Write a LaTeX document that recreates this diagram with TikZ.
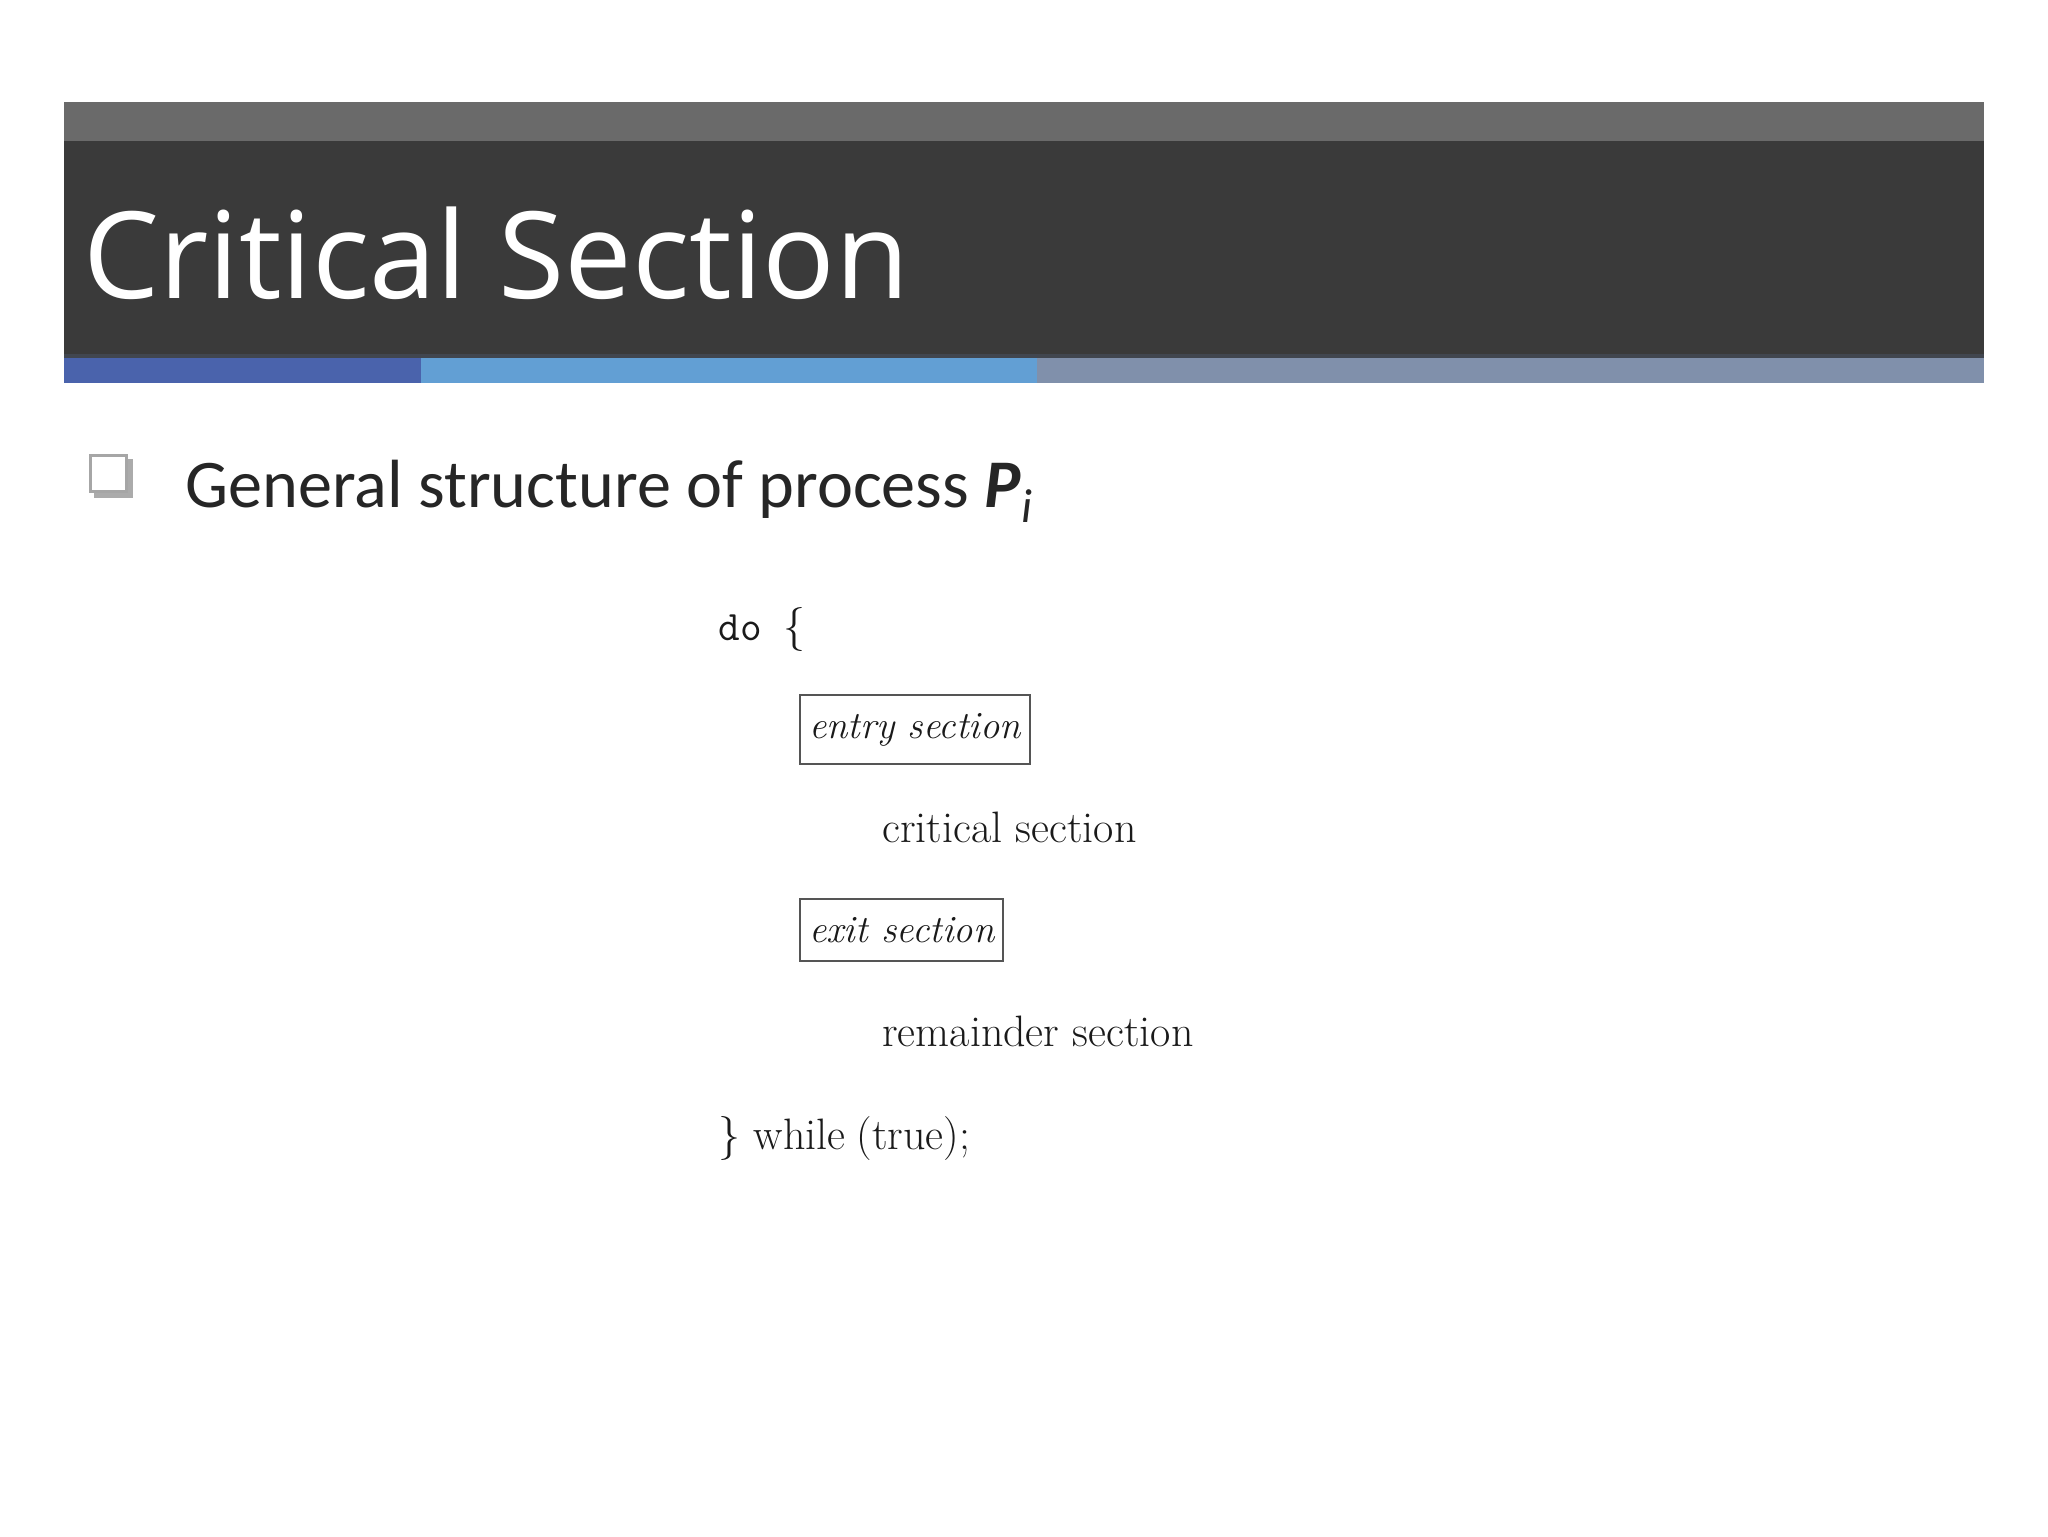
\documentclass[tikz,border=0pt]{standalone}
\usepackage{fontspec}
\usepackage{xcolor}
\usetikzlibrary{positioning}

\newfontfamily\titlefont{Open Sans}
\newfontfamily\bodyfont{Carlito}
\newcommand{\codesize}{\fontsize{22pt}{26pt}\selectfont}
\newcommand{\boxsize}{\fontsize{19.3pt}{23pt}\selectfont}

\definecolor{topgray}{HTML}{6A6A6A}
\definecolor{bandgray}{HTML}{3A3A3A}
\definecolor{bandedge}{HTML}{41464F}
\definecolor{barblue}{HTML}{4A63AC}
\definecolor{barsky}{HTML}{629FD4}
\definecolor{barslate}{HTML}{8090AB}
\definecolor{framegray}{HTML}{A6A6A6}
\definecolor{shadegray}{HTML}{ABABAB}
\definecolor{boxgray}{HTML}{555555}
\definecolor{inkgray}{HTML}{262626}
\definecolor{codeink}{HTML}{1A1A1A}

\tikzset{
  codeline/.style={inner sep=0pt, anchor=base west, text=codeink, font=\codesize},
  codebox/.style={rectangle, draw=boxgray, line width=1pt, inner xsep=4.5pt, inner ysep=9pt, anchor=base west, text=codeink, font=\boxsize\itshape}
}

\begin{document}
\begin{tikzpicture}[x=0.5pt, y=-0.5pt]
\useasboundingbox[fill=white] (0,0) rectangle (2048,1536);

% title band
\fill[topgray] (64,102) rectangle (1984,141);
\fill[bandgray] (64,141) rectangle (1984,358);
\fill[bandedge] (64,354) rectangle (1984,358);
\fill[barblue] (64,358) rectangle (421,383);
\fill[barsky] (421,358) rectangle (1037,383);
\fill[barslate] (1037,358) rectangle (1984,383);
\node[inner sep=0pt, anchor=base west, text=white, font=\titlefont\fontsize{60.3pt}{70pt}\selectfont] (title) at (83,298) {Critical Section};

% bullet
\fill[shadegray] (94,459) rectangle (133,498);
\draw[framegray, line width=1.5pt, fill=white] (90.5,455.5) rectangle (126.5,491.5);
\node[inner sep=0pt, anchor=base west, text=inkgray, font=\bodyfont\fontsize{34.1pt}{40pt}\selectfont] (general) at (185,507) {General structure of process \textit{\textbf{P}}\textsubscript{\textit{i}}};

% code
\node[codeline] (do) at (718,640) {{\ttfamily\fontsize{21pt}{26pt}\selectfont do}\hspace{11pt}\{};
\node[codebox] (entry) [below right=49.25pt and 40.5pt of do.base west, anchor=base west] {entry section};
\node[codeline] (critical) [below right=51.75pt and 41.5pt of entry.base west, anchor=base west] {critical section};
\node[codebox] (exit) [below=102pt of entry.base west, anchor=base west] {exit section};
\node[codeline] (remainder) [below=102pt of critical.base west, anchor=base west] {remainder section};
\node[codeline] (while) [below=254.5pt of do.base west, anchor=base west] {\} while\hspace{-1pt} (true);};
\end{tikzpicture}
\end{document}
